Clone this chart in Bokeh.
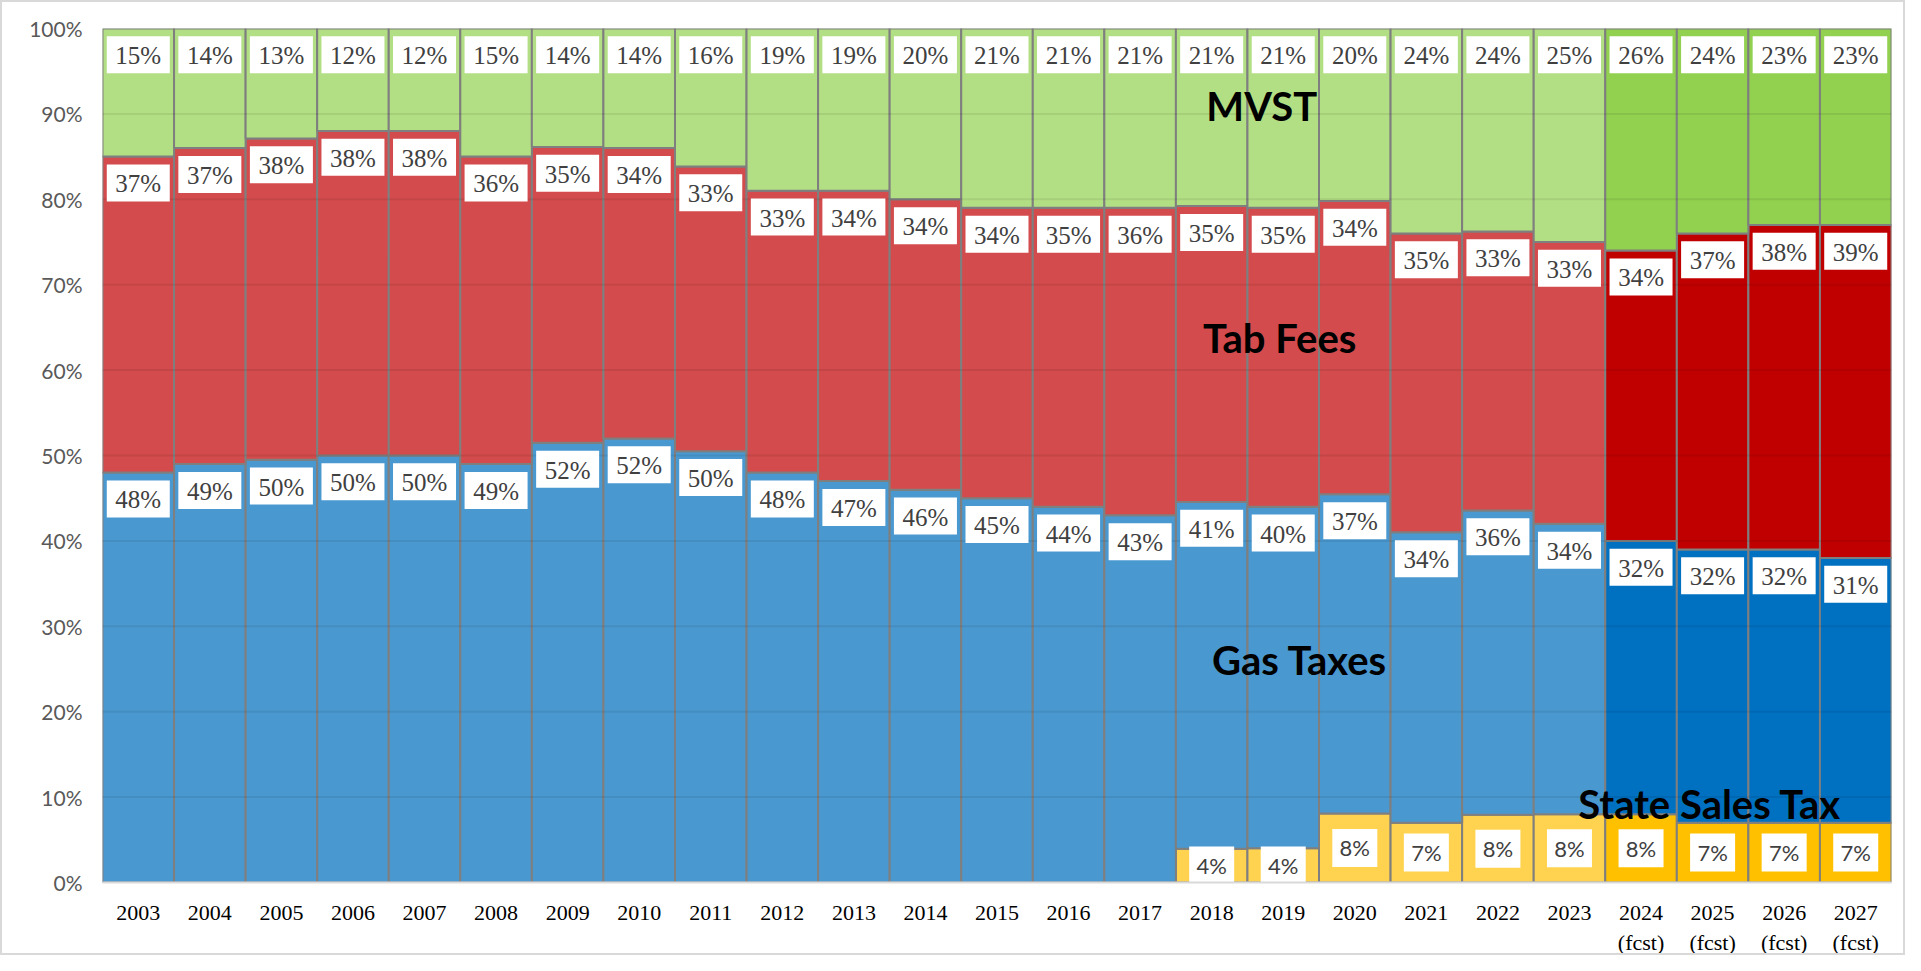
from bokeh.plotting import figure
from bokeh.models import FixedTicker, PrintfTickFormatter, Range1d, ColumnDataSource
from bokeh.core.properties import value
from bokeh.embed import file_html
from bokeh.resources import INLINE

# ---------------- data ----------------
years = ["2003", "2004", "2005", "2006", "2007", "2008", "2009", "2010", "2011",
         "2012", "2013", "2014", "2015", "2016", "2017", "2018", "2019", "2020",
         "2021", "2022", "2023", "2024", "2025", "2026", "2027"]
forecast = [False] * 21 + [True] * 4
sales_tax = [0, 0, 0, 0, 0, 0, 0, 0, 0, 0, 0, 0, 0, 0, 0,
             4, 4, 8, 7, 8, 8, 8, 7, 7, 7]
gas_taxes = [48, 49, 50, 50, 50, 49, 52, 52, 50, 48, 47, 46, 45, 44, 43,
             41, 40, 37, 34, 36, 34, 32, 32, 32, 31]
tab_fees = [37, 37, 38, 38, 38, 36, 35, 34, 33, 33, 34, 34, 34, 35, 36,
            35, 35, 34, 35, 33, 33, 34, 37, 38, 39]
mvst = [15, 14, 13, 12, 12, 15, 14, 14, 16, 19, 19, 20, 21, 21, 21,
        21, 21, 20, 24, 24, 25, 26, 24, 23, 23]
y_ticks = [0, 10, 20, 30, 40, 50, 60, 70, 80, 90, 100]

# colours (historical, forecast)
C_SALES = ("#FFD34F", "#FFC000")
C_GAS = ("#4A98D0", "#0070C0")
C_TAB = ("#D34B4C", "#C00000")
C_MVST = ("#B3DF84", "#92D050")

# ---------------- geometry ----------------
W, H = 1905, 955
ML, MR, MT, MB = 100, 16, 26, 70
plot_h = H - MT - MB
px = 100.0 / plot_h  # data units per pixel

n = len(years)
left = list(range(n))
right = [i + 1 for i in range(n)]
xc = [i + 0.5 for i in range(n)]

s_b, s_t, g_t, t_t, m_t = [], [], [], [], []
for i in range(n):
    tot = sales_tax[i] + gas_taxes[i] + tab_fees[i] + mvst[i]
    a = sales_tax[i] * 100.0 / tot
    b = a + gas_taxes[i] * 100.0 / tot
    c = b + tab_fees[i] * 100.0 / tot
    s_b.append(0.0)
    s_t.append(a)
    g_t.append(b)
    t_t.append(c)
    m_t.append(100.0)

def cols(pair):
    return [pair[1] if f else pair[0] for f in forecast]

p = figure(width=W, height=H, output_backend="svg", toolbar_location=None,
           x_range=Range1d(0, n), y_range=Range1d(0, 100),
           min_border_left=ML, min_border_right=MR, min_border_top=MT,
           min_border_bottom=MB)
p.outline_line_color = None
p.background_fill_color = "white"
p.border_fill_color = "white"
p.xgrid.visible = False
p.ygrid.visible = False
p.styles = {"border": "2px solid #D9D9D9", "box-sizing": "border-box"}

OUT = "#7F7F7F"
p.quad(left=left, right=right, bottom=s_b, top=s_t, fill_color=cols(C_SALES),
       line_color=OUT, line_width=2)
p.quad(left=left, right=right, bottom=s_t, top=g_t, fill_color=cols(C_GAS),
       line_color=OUT, line_width=2)
p.quad(left=left, right=right, bottom=g_t, top=t_t, fill_color=cols(C_TAB),
       line_color=OUT, line_width=2)
p.quad(left=left, right=right, bottom=t_t, top=m_t, fill_color=cols(C_MVST),
       line_color=OUT, line_width=2)

# gridlines showing through the bars
p.segment(x0=[0] * len(y_ticks[1:-1]), x1=[n] * len(y_ticks[1:-1]),
          y0=y_ticks[1:-1], y1=y_ticks[1:-1], line_color="black",
          line_alpha=0.07, line_width=2)

# value boxes near the top of gas / tab / mvst segments
bx, by, bt = [], [], []
off = (8 + 18.5) * px
for i in range(n):
    for top, v in ((g_t[i], gas_taxes[i]), (t_t[i], tab_fees[i]), (m_t[i], mvst[i])):
        bx.append(xc[i])
        by.append(top - off)
        bt.append(f"{v}%")
src = ColumnDataSource(dict(x=bx, y=by, t=bt))
p.rect(x="x", y="y", width=63, height=37, width_units="screen",
       height_units="screen", source=src, fill_color="white", line_color=None)
p.text(x="x", y="y", text="t", source=src, text_font=value("Liberation Serif"),
       text_font_size="25px", text_color="#404040", text_align="center",
       text_baseline="middle", y_offset=1)

# sales tax boxes (centered)
sx, sy, st = [], [], []
for i in range(n):
    if sales_tax[i] > 0:
        sx.append(xc[i])
        sy.append((s_b[i] + s_t[i]) / 2)
        st.append(f"{sales_tax[i]}%")
src2 = ColumnDataSource(dict(x=sx, y=sy, t=st))
p.rect(x="x", y="y", width=45, height=38, width_units="screen",
       height_units="screen", source=src2, fill_color="white", line_color=None)
p.text(x="x", y="y", text="t", source=src2, text_font=value("Lato"),
       text_font_size="22px", text_color="#404040", text_align="center",
       text_baseline="middle")

# series names
names = ["MVST", "Tab Fees", "Gas Taxes", "State Sales Tax"]
name_x = [16.2, 16.45, 16.73, 22.46]
name_y = [90.9, 63.8, 26.0, 9.2]
p.text(x=name_x, y=name_y, text=names, text_font=value("Lato"),
       text_font_style="bold", text_font_size="40px", text_color="black",
       text_align="center", text_baseline="alphabetic")

# axes
p.yaxis.ticker = FixedTicker(ticks=y_ticks)
p.yaxis.formatter = PrintfTickFormatter(format="%d%%")
p.yaxis.axis_line_color = None
p.yaxis.major_tick_line_color = None
p.yaxis.minor_tick_line_color = None
p.yaxis.major_label_text_font = "Lato"
p.yaxis.major_label_text_font_size = "21px"
p.yaxis.major_label_text_color = "#595959"
p.yaxis.major_label_standoff = 14

p.xaxis.ticker = FixedTicker(ticks=xc)
p.xaxis.major_label_overrides = {
    xc[i]: (years[i] + "\n(fcst)" if forecast[i] else years[i]) for i in range(n)
}
p.xaxis.axis_line_color = "#D9D9D9"
p.xaxis.axis_line_width = 2
p.xaxis.major_tick_line_color = None
p.xaxis.minor_tick_line_color = None
p.xaxis.major_label_text_font = "Liberation Serif"
p.xaxis.major_label_text_font_size = "22px"
p.xaxis.major_label_text_color = "black"
p.xaxis.major_label_standoff = 11

open("out.html", "w").write(file_html(p, INLINE))
